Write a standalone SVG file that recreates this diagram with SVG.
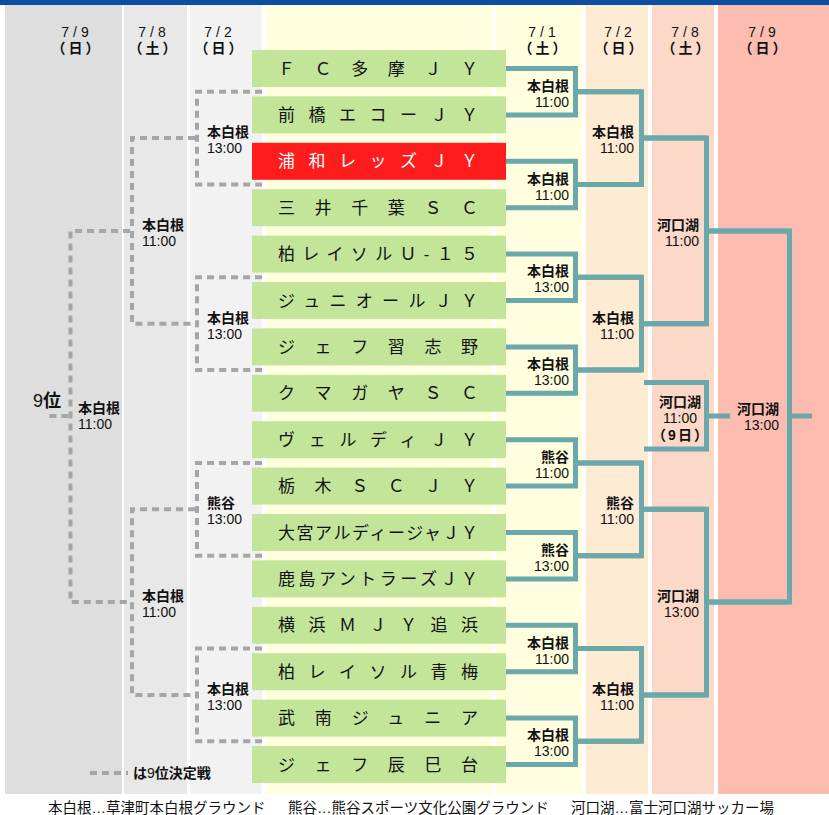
<svg xmlns="http://www.w3.org/2000/svg" width="829" height="815" viewBox="0 0 829 815">
<style>
text{font-family:"Liberation Sans","Noto Sans CJK JP",sans-serif;fill:#111}
.team{font-size:17px}
.b{font-size:14px;font-weight:bold}
.t{font-size:14px}
.dt{font-size:14px;letter-spacing:4px;text-anchor:middle}
.dy{font-size:14px;font-weight:bold;letter-spacing:3px;text-anchor:middle}
.e{text-anchor:end}
.m{text-anchor:middle}
.box{fill:#c2e59a}
.red{fill:#ff1c1c}
.win{fill:none;stroke:#6aa8a9;stroke-width:5;stroke-linejoin:miter;stroke-linecap:butt}
.lose{fill:none;stroke:#a6a6a6;stroke-width:4;stroke-dasharray:7 5}
.foot{font-size:14.5px}
</style>
<rect x="0" y="0" width="829" height="815" fill="#ffffff"/>
<g id="background">
<rect x="0" y="0" width="829" height="5" fill="#0b4ea2"/>
<rect x="5" y="5" width="117" height="789" fill="#dedede"/>
<rect x="124" y="5" width="63" height="789" fill="#e8e8e8"/>
<rect x="190" y="5" width="72" height="789" fill="#f2f2f2"/>
<rect x="266" y="5" width="226" height="789" fill="#ffffdf"/>
<rect x="496" y="5" width="86" height="789" fill="#ffffdf"/>
<rect x="586" y="5" width="62" height="789" fill="#fdebd4"/>
<rect x="652" y="5" width="62" height="789" fill="#fcd8c8"/>
<rect x="718" y="5" width="111" height="789" fill="#fcbdb0"/>
</g>
<g id="headers">
<text class="dt" x="77" y="37">7/9</text><text class="dy" x="77" y="53">（日）</text>
<text class="dt" x="154" y="37">7/8</text><text class="dy" x="154" y="53">（土）</text>
<text class="dt" x="220" y="37">7/2</text><text class="dy" x="220" y="53">（日）</text>
<text class="dt" x="544" y="37">7/1</text><text class="dy" x="544" y="53">（土）</text>
<text class="dt" x="620" y="37">7/2</text><text class="dy" x="620" y="53">（日）</text>
<text class="dt" x="687" y="37">7/8</text><text class="dy" x="687" y="53">（土）</text>
<text class="dt" x="764" y="37">7/9</text><text class="dy" x="764" y="53">（日）</text>
</g>
<g id="connectors">
<path class="win" d="M506 68.5H575.5V114.9H506M575.5 91.7H641.5"/>
<path class="win" d="M506 161.3H575.5V207.7H506M575.5 184.5H641.5"/>
<path class="win" d="M506 254.1H575.5V300.5H506M575.5 277.3H641.5"/>
<path class="win" d="M506 346.9H575.5V393.3H506M575.5 370.1H641.5"/>
<path class="win" d="M506 439.7H575.5V486.1H506M575.5 462.9H641.5"/>
<path class="win" d="M506 532.5H575.5V578.9H506M575.5 555.7H641.5"/>
<path class="win" d="M506 625.3H575.5V671.7H506M575.5 648.5H641.5"/>
<path class="win" d="M506 718.1H575.5V764.5H506M575.5 741.3H641.5"/>
<path class="win" d="M575.5 91.7H641.5V184.5H575.5M641.5 138.1H706.5"/>
<path class="win" d="M575.5 277.3H641.5V370.1H575.5M641.5 323.7H706.5"/>
<path class="win" d="M575.5 462.9H641.5V555.7H575.5M641.5 509.3H706.5"/>
<path class="win" d="M575.5 648.5H641.5V741.3H575.5M641.5 694.9H706.5"/>
<path class="win" d="M641.5 138.1H706.5V323.7H641.5M706.5 230.9H789.5"/>
<path class="win" d="M641.5 509.3H706.5V694.9H641.5M706.5 602.1H789.5"/>
<path class="win" d="M706.5 230.9H789.5V602.1H706.5M789.5 416H812"/>
<path class="win" d="M644 382.5H706.5V449H644M706.5 416H730"/>
<path class="lose" d="M262 91.7H197V184.5H262"/>
<path class="lose" d="M262 277.3H197V370.1H262"/>
<path class="lose" d="M262 462.9H197V555.7H262"/>
<path class="lose" d="M262 648.5H197V741.3H262"/>
<path class="lose" d="M195 138.1H132V323.7H195"/>
<path class="lose" d="M195 509.3H132V694.9H195"/>
<path class="lose" d="M130 230.9H70.5V602.1H130"/>
<path class="lose" d="M68.5 416H46"/>
<path class="lose" d="M90 773H128"/>
</g>
<g id="teams">
<g id="t1"><rect class="box" x="252" y="50" width="254" height="37"/><text class="team" x="278" y="74.5" textLength="200" lengthAdjust="spacing">ＦＣ多摩ＪＹ</text></g>
<g id="t2"><rect class="box" x="252" y="96.4" width="254" height="37"/><text class="team" x="278" y="120.9" textLength="200" lengthAdjust="spacing">前橋エコーＪＹ</text></g>
<g id="t3"><rect class="red" x="252" y="142.8" width="254" height="37"/><text class="team" x="278" y="167.3" textLength="200" lengthAdjust="spacing" style="fill:#fff">浦和レッズＪＹ</text></g>
<g id="t4"><rect class="box" x="252" y="189.2" width="254" height="37"/><text class="team" x="278" y="213.7" textLength="200" lengthAdjust="spacing">三井千葉ＳＣ</text></g>
<g id="t5"><rect class="box" x="252" y="235.6" width="254" height="37"/><text class="team" x="278" y="260.1" textLength="200" lengthAdjust="spacing">柏レイソルＵ-１５</text></g>
<g id="t6"><rect class="box" x="252" y="282" width="254" height="37"/><text class="team" x="278" y="306.5" textLength="200" lengthAdjust="spacing">ジュニオールＪＹ</text></g>
<g id="t7"><rect class="box" x="252" y="328.4" width="254" height="37"/><text class="team" x="278" y="352.9" textLength="200" lengthAdjust="spacing">ジェフ習志野</text></g>
<g id="t8"><rect class="box" x="252" y="374.8" width="254" height="37"/><text class="team" x="278" y="399.3" textLength="200" lengthAdjust="spacing">クマガヤＳＣ</text></g>
<g id="t9"><rect class="box" x="252" y="421.2" width="254" height="37"/><text class="team" x="278" y="445.7" textLength="200" lengthAdjust="spacing">ヴェルディＪＹ</text></g>
<g id="t10"><rect class="box" x="252" y="467.6" width="254" height="37"/><text class="team" x="278" y="492.1" textLength="200" lengthAdjust="spacing">栃木ＳＣＪＹ</text></g>
<g id="t11"><rect class="box" x="252" y="514" width="254" height="37"/><text class="team" x="278" y="538.5" textLength="200" lengthAdjust="spacing">大宮アルディージャＪＹ</text></g>
<g id="t12"><rect class="box" x="252" y="560.4" width="254" height="37"/><text class="team" x="278" y="584.9" textLength="200" lengthAdjust="spacing">鹿島アントラーズＪＹ</text></g>
<g id="t13"><rect class="box" x="252" y="606.8" width="254" height="37"/><text class="team" x="278" y="631.3" textLength="200" lengthAdjust="spacing">横浜ＭＪＹ追浜</text></g>
<g id="t14"><rect class="box" x="252" y="653.2" width="254" height="37"/><text class="team" x="278" y="677.7" textLength="200" lengthAdjust="spacing">柏レイソル青梅</text></g>
<g id="t15"><rect class="box" x="252" y="699.6" width="254" height="37"/><text class="team" x="278" y="724.1" textLength="200" lengthAdjust="spacing">武南ジュニア</text></g>
<g id="t16"><rect class="box" x="252" y="746" width="254" height="37"/><text class="team" x="278" y="770.5" textLength="200" lengthAdjust="spacing">ジェフ辰巳台</text></g>
</g>
<g id="labels-right">
<text class="b e" x="569" y="90.7">本白根</text><text class="t e" x="569" y="106.7">11:00</text>
<text class="b e" x="569" y="183.5">本白根</text><text class="t e" x="569" y="199.5">11:00</text>
<text class="b e" x="569" y="276.3">本白根</text><text class="t e" x="569" y="292.3">13:00</text>
<text class="b e" x="569" y="369.1">本白根</text><text class="t e" x="569" y="385.1">13:00</text>
<text class="b e" x="569" y="461.9">熊谷</text><text class="t e" x="569" y="477.9">11:00</text>
<text class="b e" x="569" y="554.7">熊谷</text><text class="t e" x="569" y="570.7">13:00</text>
<text class="b e" x="569" y="647.5">本白根</text><text class="t e" x="569" y="663.5">11:00</text>
<text class="b e" x="569" y="740.3">本白根</text><text class="t e" x="569" y="756.3">13:00</text>
<text class="b e" x="634" y="137.1">本白根</text><text class="t e" x="634" y="153.1">11:00</text>
<text class="b e" x="634" y="322.7">本白根</text><text class="t e" x="634" y="338.7">11:00</text>
<text class="b e" x="634" y="508.3">熊谷</text><text class="t e" x="634" y="524.3">11:00</text>
<text class="b e" x="634" y="693.9">本白根</text><text class="t e" x="634" y="709.9">11:00</text>
<text class="b e" x="699" y="229.9">河口湖</text><text class="t e" x="699" y="245.9">11:00</text>
<text class="b e" x="699" y="601.1">河口湖</text><text class="t e" x="699" y="617.1">13:00</text>
<text class="b e" x="779" y="414">河口湖</text><text class="t e" x="779" y="430">13:00</text>
<text class="b m" x="680" y="407">河口湖</text><text class="t m" x="680" y="423">11:00</text><text class="b m" x="681" y="440" style="letter-spacing:2px">（9日）</text>
</g>
<g id="labels-left">
<text class="b" x="207" y="137.1">本白根</text><text class="t" x="207" y="153.1">13:00</text>
<text class="b" x="207" y="322.7">本白根</text><text class="t" x="207" y="338.7">13:00</text>
<text class="b" x="207" y="508.3">熊谷</text><text class="t" x="207" y="524.3">13:00</text>
<text class="b" x="207" y="693.9">本白根</text><text class="t" x="207" y="709.9">13:00</text>
<text class="b" x="142" y="229.9">本白根</text><text class="t" x="142" y="245.9">11:00</text>
<text class="b" x="142" y="601.1">本白根</text><text class="t" x="142" y="617.1">11:00</text>
<text class="b" x="78" y="413">本白根</text><text class="t" x="78" y="429">11:00</text>
<text x="33" y="407" style="font-size:18px">9<tspan style="font-weight:bold">位</tspan></text>
</g>
<g id="legend">
<text class="b" x="133" y="778">は<tspan style="font-weight:normal">9</tspan>位決定戦</text>
<text class="foot" x="48" y="813">本白根…草津町本白根グラウンド</text>
<text class="foot" x="288" y="813">熊谷…熊谷スポーツ文化公園グラウンド</text>
<text class="foot" x="571" y="813">河口湖…富士河口湖サッカー場</text>
</g>
</svg>
